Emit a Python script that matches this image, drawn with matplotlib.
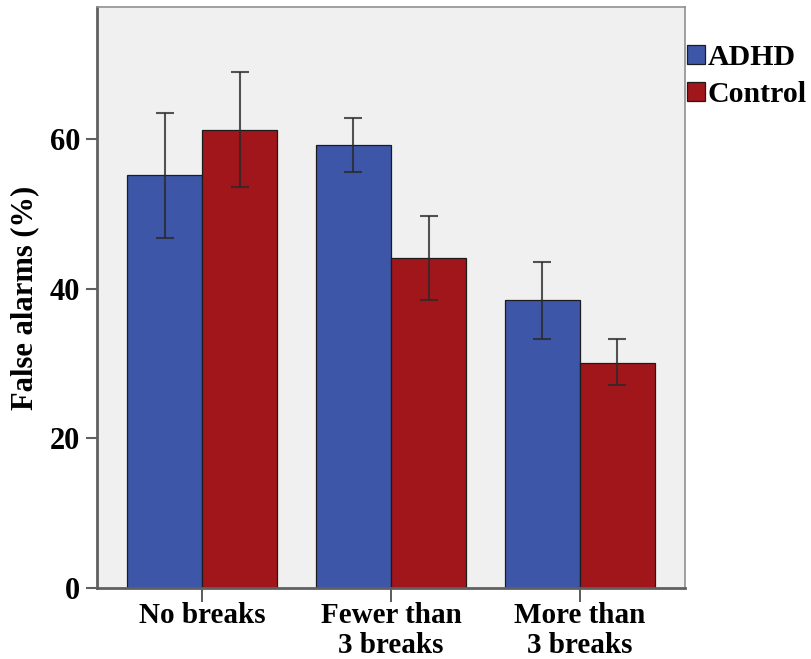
import matplotlib
matplotlib.use("Agg")
import matplotlib.pyplot as plt
import numpy as np

# Mean false-alarm rates (%) with error-bar bounds per break condition
categories = ["No breaks", "Fewer than\n3 breaks", "More than\n3 breaks"]
groups = ["ADHD", "Control"]
adhd_mean = [55.1, 59.2, 38.4]
adhd_low = [46.8, 55.6, 33.2]
adhd_high = [63.4, 62.8, 43.5]
control_mean = [61.2, 44.1, 30.1]
control_low = [53.5, 38.5, 27.1]
control_high = [68.9, 49.7, 33.3]
yticks = [0, 20, 40, 60]

plt.rcParams["font.family"] = ["Liberation Serif", "DejaVu Serif"]
plt.rcParams["font.weight"] = "bold"
FS = 22

fig = plt.figure(figsize=(8.11, 6.59), dpi=100)
ax = fig.add_axes([97 / 811, 71 / 659, 588 / 811, 581 / 659])
ax.set_facecolor("#f0f0f0")

x = np.arange(len(categories))
w = 0.397
colors = ["#3d56a8", "#a1161b"]
series = [(adhd_mean, adhd_low, adhd_high), (control_mean, control_low, control_high)]
for i, (m, lo, hi) in enumerate(series):
    m = np.array(m)
    err = np.vstack([m - np.array(lo), np.array(hi) - m])
    pos = x + (i - 0.5) * w
    ax.bar(pos, m, width=w, color=colors[i], edgecolor="#1c1c1c", linewidth=0.9,
           label=groups[i], zorder=2)
    ax.errorbar(pos, m, yerr=err, fmt="none", ecolor="#2a2a2a", elinewidth=1.5,
                capsize=6.5, capthick=1.5, alpha=0.8, zorder=3)

ax.set_xlim(-0.556, 2.556)
ax.set_ylim(0, 77.6)
ax.set_yticks(yticks)
ax.set_xticks(x)
ax.set_xticklabels(categories, fontsize=21, fontweight="bold", linespacing=1.13)
ax.tick_params(axis="y", labelsize=FS, length=8, width=1.5, color="#606060", pad=4)
ax.tick_params(axis="x", length=10, width=1.2, color="#404040", pad=0)
for lbl in ax.get_yticklabels():
    lbl.set_fontweight("bold")

for side in ["left", "bottom"]:
    ax.spines[side].set_color("#606060")
    ax.spines[side].set_linewidth(2)
for side in ["top", "right"]:
    ax.spines[side].set_color("#909090")
    ax.spines[side].set_linewidth(1.2)

ax.set_ylabel("False alarms (%)", fontsize=FS, fontweight="bold", labelpad=8)

ax.legend(loc="upper left", bbox_to_anchor=(1.003, 0.937), frameon=False,
          prop={"size": 21.5, "weight": "bold"}, handlelength=0.6, handleheight=0.6,
          handletextpad=0.1, borderpad=0, borderaxespad=0, labelspacing=0.35)

fig.savefig("out.png", dpi=100)
